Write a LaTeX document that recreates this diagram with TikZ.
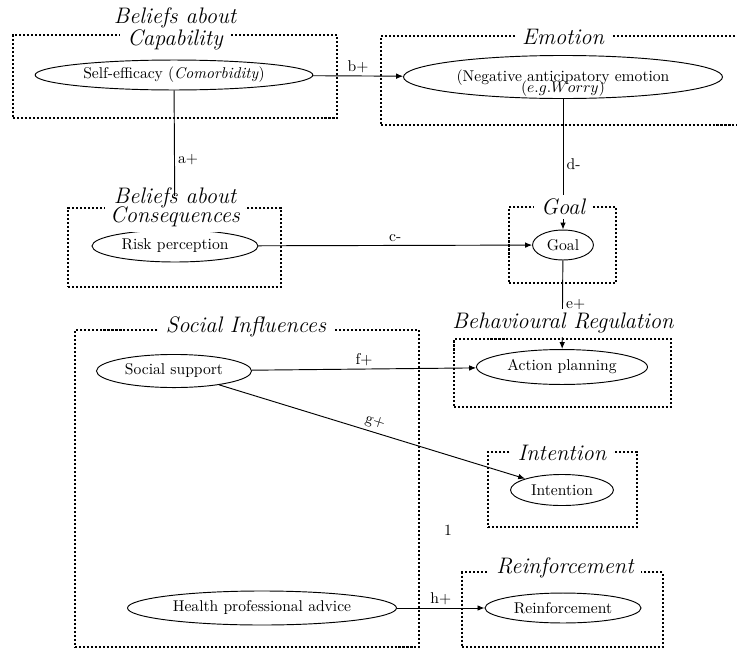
\documentclass[tikz,border=0pt]{standalone}
\usetikzlibrary{arrows.meta,shapes.geometric}
\begin{document}
\begin{tikzpicture}[x=0.641pt,y=-0.641pt,
  concept/.style={draw, ellipse, line width=0.6pt, inner sep=0pt},
  tdfbox/.style={draw, rectangle, line width=1.3pt, dash pattern=on 1.3pt off 1.26pt, inner sep=0pt},
  titlefont/.style={font=\fontsize{14.4}{15}\selectfont\itshape},
  tdftitle/.style={titlefont, fill=white, inner xsep=4.5pt, inner ysep=2.5pt},
  tdftitletop/.style={titlefont, inner sep=0pt, anchor=base},
  link/.style={-{Latex[length=4.5pt,width=3.6pt]}, line width=0.6pt},
  edgetag/.style={inner sep=2pt}]
\clip (0,0) rectangle (737,650);

% construct domains (dotted frames)
\node[tdfbox, minimum width=207.7pt, minimum height=53.2pt] (capbox) at (175,76.5) {};
\node[tdfbox, minimum width=233.3pt, minimum height=57pt] (emobox) at (563,80.5) {};
\node[tdfbox, minimum width=136.5pt, minimum height=50.6pt] (conbox) at (174.5,247.5) {};
\node[tdfbox, minimum width=68.6pt, minimum height=48.7pt] (goalbox) at (562.5,245) {};
\node[tdfbox, minimum width=139pt, minimum height=43.6pt] (regbox) at (562.5,373) {};
\node[tdfbox, minimum width=220.5pt, minimum height=203.2pt] (socbox) at (247,488.5) {};
\node[tdfbox, minimum width=95.5pt, minimum height=48pt] (intbox) at (562.5,489.5) {};
\node[tdfbox, minimum width=128.8pt, minimum height=47.5pt] (reibox) at (562.5,609.5) {};

% constructs
\node[concept, minimum width=178pt, minimum height=19.2pt] (se) at (174,75) {Self-efficacy (\textit{Comorbidity})};
\node[concept, minimum width=204.5pt, minimum height=22.4pt] (emo) at (563,77)
  {\raisebox{-4pt}[\height][\depth]{\begin{tabular}{@{}c@{}}(Negative anticipatory emotion\\[-4.5pt]$(e.g.Worry)$\end{tabular}}};
\node[concept, minimum width=106.4pt, minimum height=20.5pt] (risk) at (175,246) {Risk perception};
\node[concept, minimum width=39pt, minimum height=19.2pt] (goal) at (563,245) {Goal};
\node[concept, minimum width=109.6pt, minimum height=22.4pt] (ap) at (562,367) {Action planning};
\node[concept, minimum width=99.4pt, minimum height=21.2pt] (ss) at (174,371) {Social support};
\node[concept, minimum width=66pt, minimum height=19.9pt] (int) at (562,490) {Intention};
\node[concept, minimum width=100pt, minimum height=19.2pt] (rei) at (563,608) {Reinforcement};
\node[concept, minimum width=172.4pt, minimum height=21.8pt] (hpa) at (262,608) {Health professional advice};

% relations
\draw[link] (se) -- node[edgetag, right, pos=0.5] {a+} (risk);
\draw[link] (se) -- node[edgetag, above] {b+} (emo);
\draw[link] (risk) -- node[edgetag, above] {c-} (goal);
\draw[link] (emo) -- node[edgetag, right, pos=0.5] {d-} (goal);
\draw[link] (goal) -- node[edgetag, right, pos=0.5] {e+} (ap);
\draw[link] (ss) -- node[edgetag, above] {f+} (ap);
\draw[link] (ss) -- node[edgetag, above, sloped] {g+} (int);
\draw[link] (hpa) -- node[edgetag, above] {h+} (rei);

% domain titles (white panel behind the last line)
\node[tdftitle, inner ysep=1.5pt] (captitle) at (175,39.5) {Capability};
\node[tdftitle, anchor=base, inner ysep=0pt, inner xsep=3.5pt,
      text height=16.7pt, text depth=6.4pt] (contitle) at (175,222) {Consequences};
\node[tdftitle] (emotitle) at (563,37) {Emotion};
\node[tdftitle] (goaltitle) at (563,207) {Goal};
\node[tdftitle] (regtitle) at (563,323) {Behavioural Regulation};
\node[tdftitle] (soctitle) at (246,327) {Social Influences};
\node[tdftitle] (inttitle) at (562,453) {Intention};
\node[tdftitle] (reititle) at (565,568) {Reinforcement};
\node[tdftitletop] (captitletop) at (175,23) {Beliefs about};
\node[tdftitletop] (contitletop) at (175,203) {Beliefs about};

\node (page) at (448,530) {1};
\end{tikzpicture}
\end{document}
